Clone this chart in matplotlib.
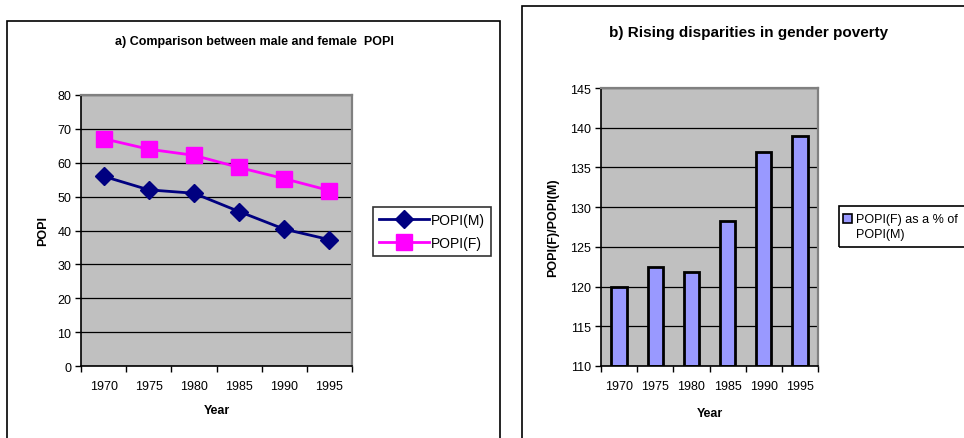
import matplotlib.pyplot as plt
from matplotlib.patches import Rectangle
from matplotlib.legend_handler import HandlerPatch, update_from_first_child

plt.rcParams['font.family'] = ['Liberation Sans', 'DejaVu Sans']

# data
years = ['1970', '1975', '1980', '1985', '1990', '1995']
popi_m = [56.0, 52.0, 51.0, 45.6, 40.4, 37.3]
popi_f = [67.1, 64.0, 62.2, 58.6, 55.3, 51.8]
ratio = [120.0, 122.5, 121.8, 128.3, 137.0, 138.9]

W, H = 964, 439
fig = plt.figure(figsize=(W / 100, H / 100), dpi=100)


def fx(px):
    return px / W


def fy(py):
    return 1 - py / H


# outer chart frames
fig.patches.append(Rectangle((fx(7), fy(460)), fx(493), fy(22) - fy(460),
                             transform=fig.transFigure, fill=False, edgecolor='black', lw=1.2))
fig.patches.append(Rectangle((fx(522), fy(460)), fx(460), fy(7) - fy(460),
                             transform=fig.transFigure, fill=False, edgecolor='black', lw=1.2))
# frame of the right legend runs off the page
fig.patches.append(Rectangle((fx(839), fy(248)), fx(140), fy(207) - fy(248),
                             transform=fig.transFigure, fill=False, edgecolor='black', lw=1.2))


def style_axes(ax, ymin, ymax, step):
    n = len(years)
    x = list(range(n))
    ax.set_facecolor('#C0C0C0')
    ax.set_xlim(-0.5, n - 0.5)
    ax.set_ylim(ymin, ymax)
    ax.set_yticks(range(ymin, ymax + 1, step))
    ax.yaxis.grid(True, color='black', lw=0.9)
    ax.set_axisbelow(True)
    ax.set_xticks([i - 0.5 for i in range(n + 1)])
    ax.set_xticklabels([])
    ax.set_xticks(x, minor=True)
    ax.set_xticklabels(years, minor=True)
    ax.tick_params(axis='x', which='minor', length=0, pad=10, labelsize=9)
    ax.tick_params(axis='x', which='major', length=4, width=1, direction='out')
    ax.tick_params(axis='y', length=4, width=1, direction='out', labelsize=9, pad=3)
    for s in ['top', 'right']:
        ax.spines[s].set_color('#808080')
        ax.spines[s].set_linewidth(1.6)
    for s in ['left', 'bottom']:
        ax.spines[s].set_color('black')
        ax.spines[s].set_linewidth(1.2)
    return x


# a) line chart
ax1 = fig.add_axes([fx(81), fy(367), fx(352 - 81), fy(96) - fy(367)])
x = style_axes(ax1, 0, 80, 10)
ax1.plot(x, popi_m, color='#000080', lw=2, marker='D', ms=9, label='POPI(M)')
ax1.plot(x, popi_f, color='#FF00FF', lw=2, marker='s', ms=12, label='POPI(F)')
ax1.set_ylabel('POPI', fontsize=9, fontweight='bold', labelpad=6)
ax1.set_xlabel('Year', fontsize=9, fontweight='bold', labelpad=9)
fig.text(fx(254), fy(42), 'a) Comparison between male and female  POPI',
         ha='center', va='center', fontsize=9, fontweight='bold')
leg1 = ax1.legend(loc='upper left', bbox_to_anchor=(fx(373), fy(208)),
                  bbox_transform=fig.transFigure, fontsize=10, frameon=True,
                  fancybox=False, edgecolor='black', handlelength=3.6,
                  borderpad=0.4, labelspacing=0.7, handletextpad=0.2, borderaxespad=0)
leg1.get_frame().set_linewidth(1.2)

# b) bar chart
ax2 = fig.add_axes([fx(601), fy(367), fx(818 - 601), fy(89) - fy(367)])
x = style_axes(ax2, 110, 145, 5)
bars = ax2.bar(x, [r - 110 for r in ratio], bottom=110, width=0.42, color='#9999FF',
               edgecolor='black', lw=2, label='POPI(F) as a % of\nPOPI(M)')
ax2.set_ylabel('POPI(F)/POPI(M)', fontsize=9, fontweight='bold', labelpad=8)
ax2.set_xlabel('Year', fontsize=9, fontweight='bold', labelpad=11)
fig.text(fx(749), fy(33), 'b) Rising disparities in gender poverty',
         ha='center', va='center', fontsize=11, fontweight='bold')


# legend swatch sits beside the first line of the wrapped label
def top_swatch(legend, orig_handle, xdescent, ydescent, width, height, fontsize):
    return Rectangle((-xdescent, -ydescent + 0.65 * fontsize), width, height)


leg2 = ax2.legend(loc='upper left', bbox_to_anchor=(fx(843), fy(214)),
                  bbox_transform=fig.transFigure, fontsize=9, frameon=False,
                  handlelength=0.72, handleheight=0.72, borderpad=0,
                  handletextpad=0.3, borderaxespad=0,
                  handler_map={type(bars): HandlerPatch(patch_func=top_swatch,
                                                        update_func=update_from_first_child)})
leg2.get_texts()[0].set_linespacing(1.3)
leg2.legend_handles[0].set_linewidth(1.2)

fig.savefig('out.png', dpi=100)
